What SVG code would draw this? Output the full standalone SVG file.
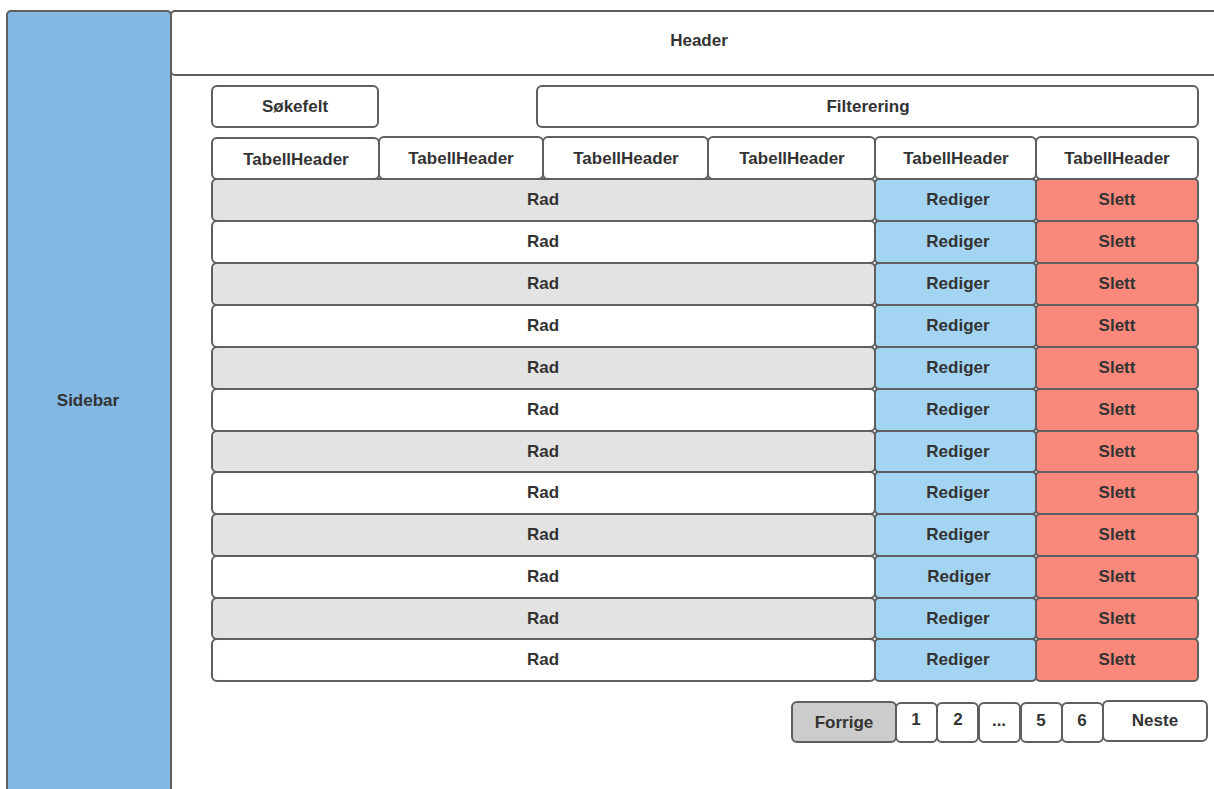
<svg xmlns="http://www.w3.org/2000/svg" width="1214" height="789" viewBox="0 0 1214 789">
<style>
.b{stroke:#5f5f5f;stroke-width:2}
.w{fill:#ffffff}
.g{fill:#e3e3e3}
.bl{fill:#a3d4f2}
.r{fill:#fa897b}
.t{font-family:"Liberation Sans",Arial,sans-serif;font-weight:bold;font-size:17px;fill:#333333;text-anchor:middle}
</style>
<rect width="1214" height="789" fill="#ffffff"/>
<g id="sidebar"><rect class="b" x="7" y="11" width="164" height="800" rx="4" fill="#82b8e2"/><text class="t" x="88" y="405.5">Sidebar</text></g>
<g id="header"><rect class="b w" x="171" y="11" width="1060" height="64" rx="4"/><text class="t" x="699" y="46">Header</text></g>
<g id="sokefelt"><rect class="b w" x="212" y="86" width="166" height="41" rx="5"/><text class="t" x="295" y="112">Søkefelt</text></g>
<g id="filtrering"><rect class="b w" x="537" y="86" width="661" height="41" rx="5"/><text class="t" x="868" y="112">Filterering</text></g>
<g id="tableheaders">
<g id="th1"><rect class="b w" x="212" y="138" width="167" height="41" rx="5"/><text class="t" x="296" y="165">TabellHeader</text></g>
<g id="th2"><rect class="b w" x="379" y="137" width="164" height="42" rx="5"/><text class="t" x="461" y="164">TabellHeader</text></g>
<g id="th3"><rect class="b w" x="543" y="137" width="165" height="42" rx="5"/><text class="t" x="626" y="164">TabellHeader</text></g>
<g id="th4"><rect class="b w" x="708" y="137" width="167" height="42" rx="5"/><text class="t" x="792" y="164">TabellHeader</text></g>
<g id="th5"><rect class="b w" x="875" y="137" width="161" height="42" rx="5"/><text class="t" x="956" y="164">TabellHeader</text></g>
<g id="th6"><rect class="b w" x="1036" y="137" width="162" height="42" rx="5"/><text class="t" x="1117" y="164">TabellHeader</text></g>
</g>
<g id="rows">
<g id="row1"><rect class="b g" x="212" y="179" width="663" height="42" rx="5"/><text class="t" x="543" y="205">Rad</text><rect class="b bl" x="875" y="179" width="161" height="42" rx="4"/><text class="t" x="958" y="205">Rediger</text><rect class="b r" x="1036" y="179" width="162" height="42" rx="4"/><text class="t" x="1117" y="205">Slett</text></g>
<g id="row2"><rect class="b w" x="212" y="221" width="663" height="42" rx="5"/><text class="t" x="543" y="247">Rad</text><rect class="b bl" x="875" y="221" width="161" height="42" rx="4"/><text class="t" x="958" y="247">Rediger</text><rect class="b r" x="1036" y="221" width="162" height="42" rx="4"/><text class="t" x="1117" y="247">Slett</text></g>
<g id="row3"><rect class="b g" x="212" y="263" width="663" height="42" rx="5"/><text class="t" x="543" y="289">Rad</text><rect class="b bl" x="875" y="263" width="161" height="42" rx="4"/><text class="t" x="958" y="289">Rediger</text><rect class="b r" x="1036" y="263" width="162" height="42" rx="4"/><text class="t" x="1117" y="289">Slett</text></g>
<g id="row4"><rect class="b w" x="212" y="305" width="663" height="42" rx="5"/><text class="t" x="543" y="331">Rad</text><rect class="b bl" x="875" y="305" width="161" height="42" rx="4"/><text class="t" x="958" y="331">Rediger</text><rect class="b r" x="1036" y="305" width="162" height="42" rx="4"/><text class="t" x="1117" y="331">Slett</text></g>
<g id="row5"><rect class="b g" x="212" y="347" width="663" height="42" rx="5"/><text class="t" x="543" y="373">Rad</text><rect class="b bl" x="875" y="347" width="161" height="42" rx="4"/><text class="t" x="958" y="373">Rediger</text><rect class="b r" x="1036" y="347" width="162" height="42" rx="4"/><text class="t" x="1117" y="373">Slett</text></g>
<g id="row6"><rect class="b w" x="212" y="389" width="663" height="42" rx="5"/><text class="t" x="543" y="415">Rad</text><rect class="b bl" x="875" y="389" width="161" height="42" rx="4"/><text class="t" x="958" y="415">Rediger</text><rect class="b r" x="1036" y="389" width="162" height="42" rx="4"/><text class="t" x="1117" y="415">Slett</text></g>
<g id="row7"><rect class="b g" x="212" y="431" width="663" height="41" rx="5"/><text class="t" x="543" y="457">Rad</text><rect class="b bl" x="875" y="431" width="161" height="41" rx="4"/><text class="t" x="958" y="457">Rediger</text><rect class="b r" x="1036" y="431" width="162" height="41" rx="4"/><text class="t" x="1117" y="457">Slett</text></g>
<g id="row8"><rect class="b w" x="212" y="472" width="663" height="42" rx="5"/><text class="t" x="543" y="498">Rad</text><rect class="b bl" x="875" y="472" width="161" height="42" rx="4"/><text class="t" x="958" y="498">Rediger</text><rect class="b r" x="1036" y="472" width="162" height="42" rx="4"/><text class="t" x="1117" y="498">Slett</text></g>
<g id="row9"><rect class="b g" x="212" y="514" width="663" height="42" rx="5"/><text class="t" x="543" y="540">Rad</text><rect class="b bl" x="875" y="514" width="161" height="42" rx="4"/><text class="t" x="958" y="540">Rediger</text><rect class="b r" x="1036" y="514" width="162" height="42" rx="4"/><text class="t" x="1117" y="540">Slett</text></g>
<g id="row10"><rect class="b w" x="212" y="556" width="663" height="42" rx="5"/><text class="t" x="543" y="582">Rad</text><rect class="b bl" x="875" y="556" width="161" height="42" rx="4"/><text class="t" x="959" y="582">Rediger</text><rect class="b r" x="1036" y="556" width="162" height="42" rx="4"/><text class="t" x="1117" y="582">Slett</text></g>
<g id="row11"><rect class="b g" x="212" y="598" width="663" height="41" rx="5"/><text class="t" x="543" y="624">Rad</text><rect class="b bl" x="875" y="598" width="161" height="41" rx="4"/><text class="t" x="958" y="624">Rediger</text><rect class="b r" x="1036" y="598" width="162" height="41" rx="4"/><text class="t" x="1117" y="624">Slett</text></g>
<g id="row12"><rect class="b w" x="212" y="639" width="663" height="42" rx="5"/><text class="t" x="543" y="665">Rad</text><rect class="b bl" x="875" y="639" width="161" height="42" rx="4"/><text class="t" x="958" y="665">Rediger</text><rect class="b r" x="1036" y="639" width="162" height="42" rx="4"/><text class="t" x="1117" y="665">Slett</text></g>
</g>
<g id="pagination">
<g id="forrige"><rect class="b" x="792" y="702" width="104" height="40" rx="5" fill="#cccccc"/><text class="t" x="844" y="727.5">Forrige</text></g>
<g id="p1"><rect class="b w" x="896" y="703" width="41" height="39" rx="5"/><text class="t" x="916" y="725">1</text></g>
<g id="p2"><rect class="b w" x="937" y="703" width="41" height="39" rx="5"/><text class="t" x="958" y="725">2</text></g>
<g id="pdots"><rect class="b w" x="979" y="703" width="41" height="39" rx="5"/><text class="t" x="999" y="726">...</text></g>
<g id="p5"><rect class="b w" x="1021" y="703" width="41" height="39" rx="5"/><text class="t" x="1041" y="726">5</text></g>
<g id="p6"><rect class="b w" x="1062" y="703" width="41" height="39" rx="5"/><text class="t" x="1082" y="726">6</text></g>
<g id="neste"><rect class="b w" x="1103" y="701" width="104" height="40" rx="5"/><text class="t" x="1155" y="726">Neste</text></g>
</g>
<g id="connectors"></g>
</svg>
